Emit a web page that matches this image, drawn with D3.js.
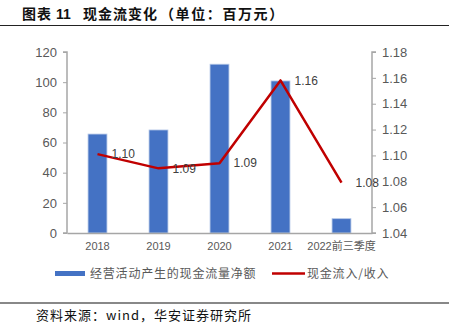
<!DOCTYPE html>
<html>
<head>
<meta charset="utf-8">
<script src="https://cdn.jsdelivr.net/npm/d3@7/dist/d3.min.js"></script>
<style>
  body { margin: 0; background: #fff; }
  svg { display: block; font-family: "Liberation Sans", Arial, "Noto Sans CJK SC", sans-serif; }
</style>
</head>
<body>
<svg id="chart" width="449" height="331"></svg>
<script>
// Cash flow figures (millions of yuan) and inflow/revenue ratio
const categories = ["2018", "2019", "2020", "2021", "2022前三季度"];
const netOperatingCash = [65.6, 68.3, 111.9, 100.8, 9.5];
const inflowRatio = [1.101, 1.090, 1.094, 1.158, 1.079];
const leftTicks = [0, 20, 40, 60, 80, 100, 120];
const rightTicks = [1.04, 1.06, 1.08, 1.10, 1.12, 1.14, 1.16, 1.18];
const barName = "经营活动产生的现金流量净额";
const lineName = "现金流入/收入";
const titleParts = [
  { text: "图表", x: 22, spacing: 1 },
  { text: "11", x: 56, spacing: 0 },
  { text: "现金流变化", x: 83, spacing: 1 },
  { text: "（单位：百万元）", x: 160, spacing: 1.6 }
];
const source = "资料来源：wind，华安证券研究所";

const svg = d3.select("#chart");
const cjk = '"Noto Sans CJK SC", sans-serif';
const plotLeft = 67, plotRight = 372, plotTop = 52, plotBottom = 233;

const x = d3.scaleBand().domain(categories).range([plotLeft, plotRight]).paddingInner(0.69).paddingOuter(0.345);
const yL = d3.scaleLinear().domain([0, 120]).range([plotBottom, plotTop]);
const yR = d3.scaleLinear().domain([1.04, 1.18]).range([plotBottom, plotTop]);

// Title and rules
svg.append("text").attr("y", 19)
  .attr("font-family", cjk).attr("font-weight", "bold").attr("font-size", 14)
  .attr("fill", "#111")
  .selectAll("tspan").data(titleParts).join("tspan")
  .attr("x", d => d.x).attr("letter-spacing", d => d.spacing)
  .attr("font-family", d => /^\d+$/.test(d.text) ? '"Liberation Sans", Arial, sans-serif' : null)
  .text(d => d.text);
svg.append("line").attr("x1", 0).attr("x2", 449).attr("y1", 25.5).attr("y2", 25.5)
  .attr("stroke", "#222").attr("stroke-width", 1);
svg.append("line").attr("x1", 0).attr("x2", 449).attr("y1", 303).attr("y2", 303)
  .attr("stroke", "#888").attr("stroke-width", 2);
svg.append("text").attr("x", 36).attr("y", 320)
  .attr("font-family", cjk).attr("font-size", 13).attr("letter-spacing", 1)
  .attr("fill", "#111").text(source);

// Bars
svg.append("g").selectAll("rect").data(netOperatingCash).join("rect")
  .attr("x", (d, i) => x(categories[i]))
  .attr("y", d => yL(d))
  .attr("width", x.bandwidth())
  .attr("height", d => plotBottom - yL(d))
  .attr("fill", "#4472C4")
  .attr("stroke", "#b4c7e7").attr("stroke-width", 0.8);

// Axes
const axisColor = "#a6a6a6", labelColor = "#595959";
const gL = svg.append("g").attr("transform", `translate(${plotLeft},0)`)
  .call(d3.axisLeft(yL).tickValues(leftTicks).tickSize(4).tickPadding(6).tickFormat(d3.format("d")));
const gR = svg.append("g").attr("transform", `translate(${plotRight},0)`)
  .call(d3.axisRight(yR).tickValues(rightTicks).tickSize(4).tickPadding(6).tickFormat(d3.format(".2f")));
[gL, gR].forEach(g => {
  g.select(".domain").attr("stroke", axisColor).attr("stroke-width", 1.5);
  g.selectAll(".tick line").attr("stroke", axisColor);
  g.selectAll(".tick text").attr("fill", labelColor).attr("font-size", 13)
    .attr("font-family", '"Liberation Sans", Arial, sans-serif');
});
gL.select(".domain").attr("d", `M-4,${plotTop}H0V${plotBottom}H-4`);
gR.select(".domain").attr("d", `M4,${plotTop}H0V${plotBottom}H4`);

const gX = svg.append("g").attr("transform", `translate(0,${plotBottom})`)
  .call(d3.axisBottom(x).tickSize(0).tickPadding(9));
gX.select(".domain").attr("stroke", axisColor).attr("stroke-width", 1.5);
gX.selectAll(".tick text").attr("fill", labelColor).attr("font-size", 11)
  .attr("font-family", '"Liberation Sans", Arial, "Noto Sans CJK SC", sans-serif');

// Ratio line
const cx = c => x(c) + x.bandwidth() / 2;
svg.append("path").datum(inflowRatio)
  .attr("fill", "none").attr("stroke", "#C00000").attr("stroke-width", 2.5)
  .attr("stroke-linejoin", "round")
  .attr("d", d3.line().x((d, i) => cx(categories[i])).y(d => yR(d)));

svg.append("g").selectAll("text").data(inflowRatio).join("text")
  .attr("x", (d, i) => cx(categories[i]) + 14)
  .attr("y", d => yR(d))
  .attr("dy", "0.35em")
  .attr("font-size", 12).attr("fill", "#404040")
  .text(d => d3.format(".2f")(d));

// Legend
svg.append("rect").attr("x", 55).attr("y", 271).attr("width", 30).attr("height", 5).attr("fill", "#4472C4");
svg.append("text").attr("x", 90).attr("y", 278).attr("font-family", cjk).attr("font-size", 12)
  .attr("letter-spacing", 0.8).attr("fill", "#595959").text(barName);
svg.append("line").attr("x1", 272).attr("x2", 305).attr("y1", 273.5).attr("y2", 273.5)
  .attr("stroke", "#C00000").attr("stroke-width", 2.5);
svg.append("text").attr("x", 307).attr("y", 278).attr("font-family", cjk).attr("font-size", 12)
  .attr("letter-spacing", 0.8).attr("fill", "#595959").text(lineName);
</script>
</body>
</html>
